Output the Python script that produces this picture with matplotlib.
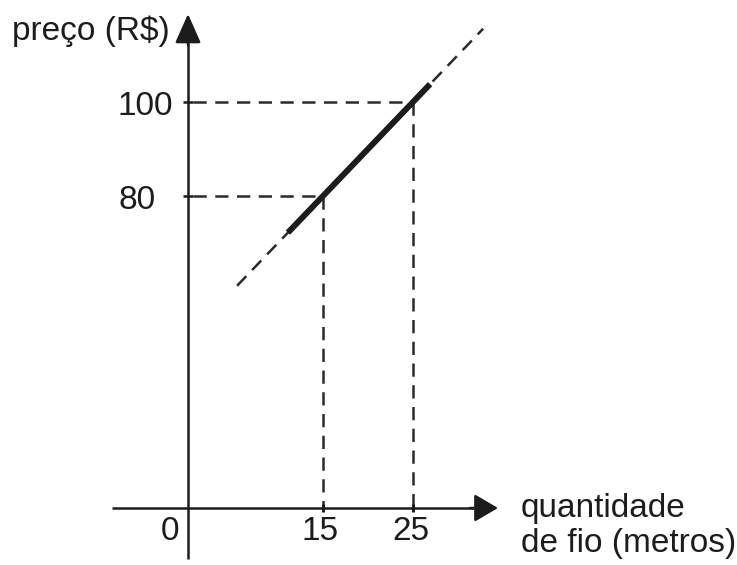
import matplotlib
matplotlib.use("Agg")
import matplotlib.pyplot as plt
import numpy as np

# ---- data ----
x_ticks = [15, 25]               # quantidade de fio (metros)
y_ticks = [80, 100]              # preço (R$)
x_tick_labels = ["15", "25"]
y_tick_labels = ["80", "100"]
origin_label = "0"
x_label_lines = ["quantidade", "de fio (metros)"]
y_label = "preço (R$)"
solid_x_range = [11.1, 26.9]     # thick part of the line
dashed_x_range = [5.45, 32.8]    # dashed extension of the line

# line through the two known points
slope = (y_ticks[1] - y_ticks[0]) / (x_ticks[1] - x_ticks[0])
intercept = y_ticks[0] - slope * x_ticks[0]

# ---- layout (pixel mapping of the reference) ----
W, H = 737, 565
PX_X0, PX_PER_X = 188, 9.0
PY_100, PY_PER_Y = 102, 4.7

def px_to_x(px):
    return (px - PX_X0) / PX_PER_X

def py_to_y(py):
    return 100 - (py - PY_100) / PY_PER_Y

fig = plt.figure(figsize=(W / 100, H / 100), dpi=100)
ax = fig.add_axes([0, 0, 1, 1])
ax.set_xlim(px_to_x(0), px_to_x(W))
ax.set_ylim(py_to_y(H), py_to_y(0))
ax.axis("off")

ink = "#1c1c1c"
dash_col = "#2a2a2a"
font = ["Liberation Sans", "DejaVu Sans"]
fs = 24

axis_y = py_to_y(508)   # where the horizontal axis is drawn
axis_lw = 1.8

# axes with arrows
ax.plot([px_to_x(112), px_to_x(480)], [axis_y, axis_y], color=ink, lw=axis_lw,
        solid_capstyle="butt")
ax.annotate("", xy=(px_to_x(498), axis_y), xytext=(px_to_x(470), axis_y),
            arrowprops=dict(arrowstyle="-|>,head_length=1.45,head_width=0.85",
                            color=ink, lw=axis_lw, shrinkA=0, shrinkB=0,
                            mutation_scale=10))
ax.plot([0, 0], [py_to_y(559), py_to_y(35)], color=ink, lw=axis_lw,
        solid_capstyle="butt")
ax.annotate("", xy=(0, py_to_y(14)), xytext=(0, py_to_y(45)),
            arrowprops=dict(arrowstyle="-|>,head_length=1.8,head_width=0.8",
                            color=ink, lw=axis_lw, shrinkA=0, shrinkB=0,
                            mutation_scale=10))

# dashed guide lines
dash_lw = 1.8
dash_pattern = (5.3, 3.4)
for xv, yv in zip(x_ticks, y_ticks):
    ax.plot([px_to_x(193), xv], [yv, yv], color=dash_col, lw=dash_lw,
            dashes=dash_pattern, dash_capstyle="butt")
    ax.plot([xv, xv], [yv, axis_y], color=dash_col, lw=dash_lw,
            dashes=dash_pattern, dash_capstyle="butt")

# extended dashed line and thick solid segment
xd = np.array(dashed_x_range)
ax.plot(xd, slope * xd + intercept, color=dash_col, lw=dash_lw,
        dashes=dash_pattern, dash_capstyle="butt")
xs = np.array(solid_x_range)
ax.plot(xs, slope * xs + intercept, color=ink, lw=4.3, solid_capstyle="butt")

# small tick marks
ax.plot([0] * len(y_ticks), y_ticks, ls="none", marker="_", ms=7, mew=1.8,
        color=ink)
ax.plot(x_ticks, [axis_y] * len(x_ticks), ls="none", marker="|", ms=6, mew=2.2,
        color=ink)

# tick labels
for yv, lab in zip(y_ticks, y_tick_labels):
    ax.annotate(lab, xy=(0, yv), xytext=(-70, -12.5), textcoords="offset pixels",
                ha="left", va="baseline", fontsize=fs, family=font, color=ink)
for xv, lab in zip(x_ticks, x_tick_labels):
    ax.annotate(lab, xy=(xv, axis_y), xytext=(-2.5, -32), textcoords="offset pixels",
                ha="center", va="baseline", fontsize=fs, family=font, color=ink)
ax.annotate(origin_label, xy=(0, axis_y), xytext=(-18, -32), textcoords="offset pixels",
            ha="center", va="baseline", fontsize=fs, family=font, color=ink)

# axis labels
ax.text(px_to_x(12), py_to_y(40), y_label, ha="left", va="baseline",
        fontsize=fs, family=font, color=ink)
ax.text(px_to_x(521), py_to_y(517), x_label_lines[0], ha="left", va="baseline",
        fontsize=fs, family=font, color=ink)
ax.text(px_to_x(521), py_to_y(552), x_label_lines[1], ha="left", va="baseline",
        fontsize=fs, family=font, color=ink)

fig.savefig("out.png", dpi=100)
